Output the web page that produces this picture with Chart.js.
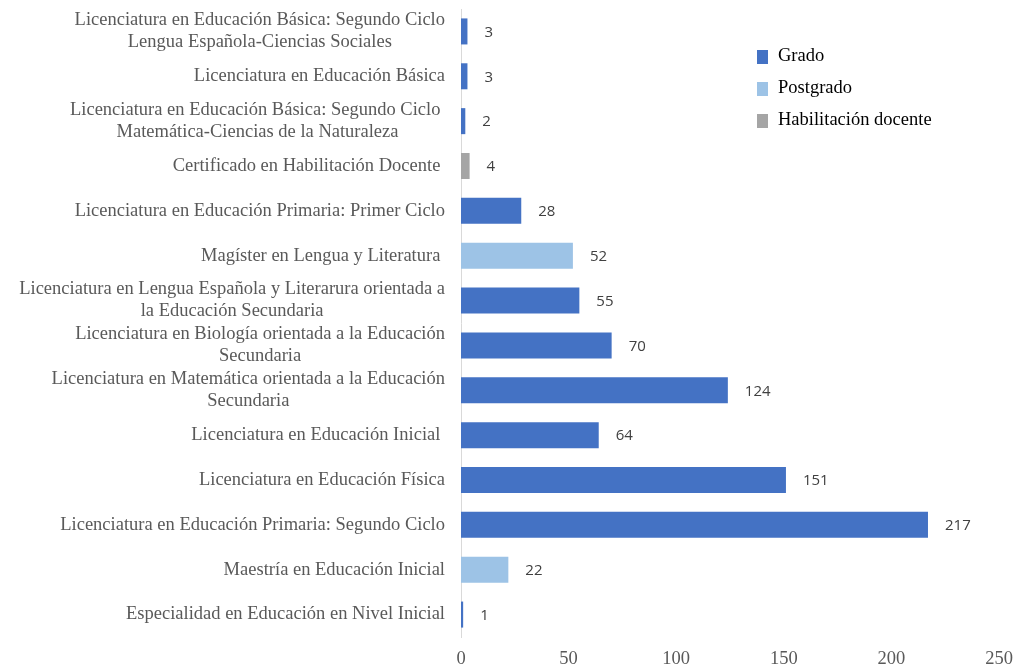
<!DOCTYPE html>
<html>
<head>
<meta charset="utf-8">
<script src="https://cdn.jsdelivr.net/npm/chart.js@4.4.0/dist/chart.umd.min.js"></script>
<style>
  html, body { margin: 0; padding: 0; background: #fff; }
  #wrap { width: 1018px; height: 668px; position: relative; }
</style>
</head>
<body>
<div id="wrap"><canvas id="chart"></canvas></div>
<script>
// programas, de arriba hacia abajo
const programas = [
    ['Licenciatura en Educación Básica: Segundo Ciclo', 'Lengua Española-Ciencias Sociales'],
    ['Licenciatura en Educación Básica'],
    ['Licenciatura en Educación Básica: Segundo Ciclo ', 'Matemática-Ciencias de la Naturaleza'],
    ['Certificado en Habilitación Docente '],
    ['Licenciatura en Educación Primaria: Primer Ciclo'],
    ['Magíster en Lengua y Literatura '],
    ['Licenciatura en Lengua Española y Literarura orientada a', 'la Educación Secundaria'],
    ['Licenciatura en Biología orientada a la Educación', 'Secundaria'],
    ['Licenciatura en Matemática orientada a la Educación', 'Secundaria'],
    ['Licenciatura en Educación Inicial '],
    ['Licenciatura en Educación Física'],
    ['Licenciatura en Educación Primaria: Segundo Ciclo'],
    ['Maestría en Educación Inicial'],
    ['Especialidad en Educación en Nivel Inicial']
];

const grado       = [3, 3, 2, null, 28, null, 55, 70, 124, 64, 151, 217, null, 1];
const postgrado   = [null, null, null, null, null, 52, null, null, null, null, null, null, 22, null];
const habilitacion = [null, null, null, 4, null, null, null, null, null, null, null, null, null, null];

const serieNombres = ['Grado', 'Postgrado', 'Habilitación docente'];
const xTicks = [0, 50, 100, 150, 200, 250];

const SERIF = '"Liberation Serif", "Times New Roman", serif';

// etiquetas del eje y: lineas centradas, bloque alineado a la derecha
const yLabelsPlugin = {
    id: 'yLabels',
    afterDraw(chart) {
        const ctx = chart.ctx;
        const y = chart.scales.y;
        const right = chart.chartArea.left - 16;
        const lh = 22;
        ctx.save();
        ctx.font = '18.5px ' + SERIF;
        ctx.fillStyle = '#595959';
        ctx.textAlign = 'center';
        ctx.textBaseline = 'middle';
        programas.forEach((lines, i) => {
            const cy = y.getPixelForValue(i);
            const w = Math.max(...lines.map(l => ctx.measureText(l).width));
            const cx = right - w / 2;
            const top = cy - (lines.length - 1) * lh / 2;
            lines.forEach((l, k) => ctx.fillText(l, cx, top + k * lh));
        });
        ctx.restore();
    }
};

// valores al final de cada barra
const valueLabelsPlugin = {
    id: 'valueLabels',
    afterDatasetsDraw(chart) {
        const ctx = chart.ctx;
        ctx.save();
        ctx.font = '15px "Open Sans", sans-serif';
        ctx.fillStyle = '#404040';
        ctx.textAlign = 'left';
        ctx.textBaseline = 'middle';
        chart.data.datasets.forEach((ds, di) => {
            const meta = chart.getDatasetMeta(di);
            meta.data.forEach((bar, i) => {
                if (ds.data[i] == null) return;
                ctx.fillText(String(ds.data[i]), bar.x + 17, bar.y + 1);
            });
        });
        ctx.restore();
    }
};

// leyenda dentro del area
const legendPlugin = {
    id: 'customLegend',
    afterDraw(chart) {
        const ctx = chart.ctx;
        ctx.save();
        ctx.font = '18.5px ' + SERIF;
        ctx.textBaseline = 'middle';
        ctx.textAlign = 'left';
        chart.data.datasets.forEach((ds, i) => {
            const cy = 56 + i * 32;
            ctx.fillStyle = ds.backgroundColor;
            ctx.fillRect(757, cy - 6, 11, 14);
            ctx.fillStyle = '#000';
            ctx.fillText(ds.label, 778, cy);
        });
        ctx.restore();
    }
};

new Chart(document.getElementById('chart'), {
    type: 'bar',
    data: {
        labels: programas.map(l => l.join(' ')),
        datasets: [
            { label: serieNombres[0], data: grado, backgroundColor: '#4472C4' },
            { label: serieNombres[1], data: postgrado, backgroundColor: '#9DC3E6' },
            { label: serieNombres[2], data: habilitacion, backgroundColor: '#A5A5A5' }
        ]
    },
    options: {
        indexAxis: 'y',
        responsive: true,
        maintainAspectRatio: false,
        animation: false,
        categoryPercentage: 0.58,
        barPercentage: 1,
        layout: { padding: { top: 9, right: 19, left: 0, bottom: 0 } },
        plugins: {
            legend: { display: false },
            tooltip: { enabled: false }
        },
        scales: {
            x: {
                stacked: true,
                min: 0,
                max: 250,
                afterBuildTicks: (s) => { s.ticks = xTicks.map(v => ({ value: v })); },
                afterFit: (s) => { s.height = 31; s.paddingLeft = 0; s.paddingRight = 0; },
                grid: { display: false, drawTicks: false },
                border: { display: false },
                ticks: { padding: 11, color: '#595959', font: { family: SERIF, size: 18.5 } }
            },
            y: {
                stacked: true,
                afterFit: (s) => { s.width = 461; s.paddingTop = 0; s.paddingBottom = 0; },
                grid: { drawOnChartArea: false, drawTicks: false },
                border: { display: true, color: '#D9D9D9', width: 1 },
                ticks: { display: false }
            }
        }
    },
    plugins: [yLabelsPlugin, valueLabelsPlugin, legendPlugin]
});
</script>
</body>
</html>
